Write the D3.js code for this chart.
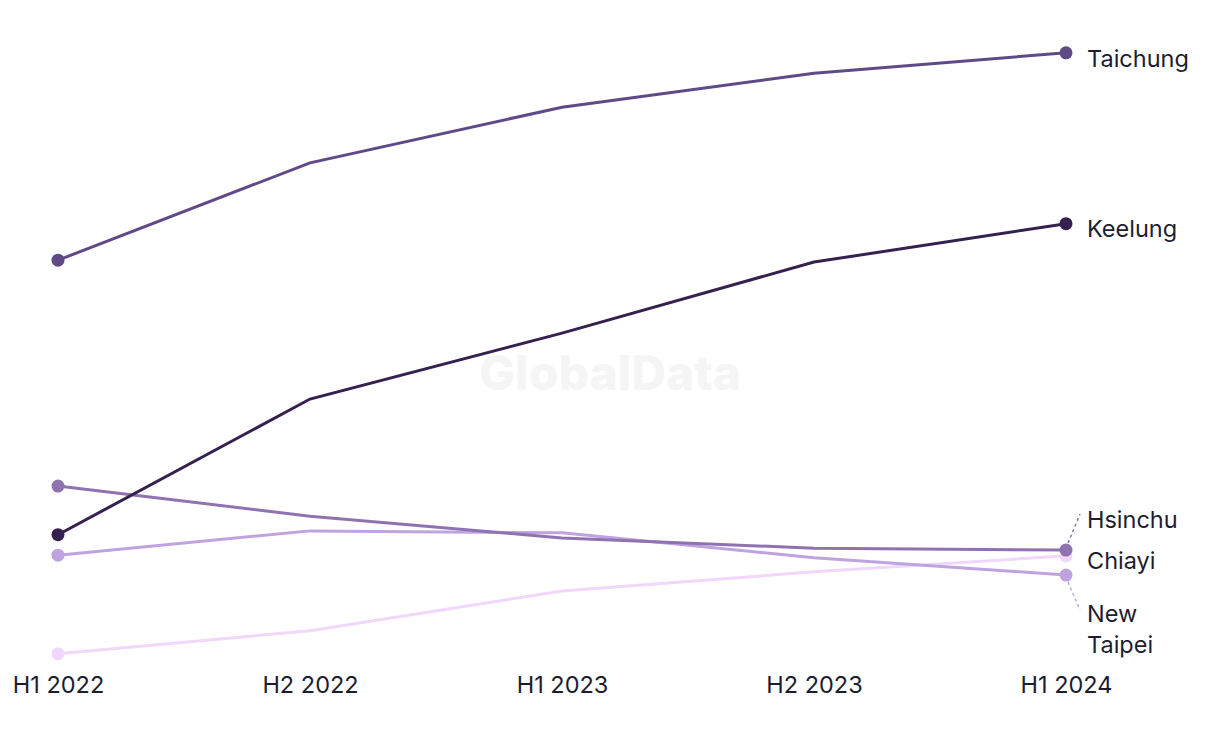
<!DOCTYPE html>
<meta charset="utf-8">
<script src="https://d3js.org/d3.v7.min.js"></script>
<style>
  body { margin: 0; background: #fff; }
  text { font-family: Inter, "Noto Sans", sans-serif; fill: #1d1d30; }
</style>
<div id="my_dataviz"></div>
<script>
// periods on the x axis
var periods = ["H1 2022", "H2 2022", "H1 2023", "H2 2023", "H1 2024"];

// series values (no y axis shown, relative index)
var taichung  = [65.6, 80.8, 89.5, 94.8, 98.0];
var keelung   = [22.7, 43.9, 54.2, 65.3, 71.3];
var hsinchu   = [30.3, 25.6, 22.2, 20.6, 20.3];
var newTaipei = [19.5, 23.3, 23.0, 19.1, 16.4];
var chiayi    = [4.1, 7.7, 13.9, 16.9, 19.4];

var names = ["Taichung", "Keelung", "Hsinchu", "New Taipei", "Chiayi"];
var values = [taichung, keelung, hsinchu, newTaipei, chiayi];
var colors = ["#5f4a87", "#34214f", "#8f73b0", "#bfa3e1", "#f1d7fb"];

var width = 1220, height = 744;

var svg = d3.select("#my_dataviz")
    .append("svg")
    .attr("width", width)
    .attr("height", height);

var x = d3.scalePoint()
    .domain(periods)
    .range([58, 1066]);

var y = d3.scaleLinear()
    .domain([0, 100])
    .range([680, 40]);

// watermark
svg.append("text")
    .attr("x", 610)
    .attr("y", 390)
    .attr("text-anchor", "middle")
    .style("font-size", "48px")
    .style("font-weight", "800")
    .style("fill", "#f5f5f5")
    .text("GlobalData");

var series = names.map(function (n, i) {
    return { name: n, color: colors[i], pts: periods.map(function (p, j) { return { p: p, v: values[i][j] }; }) };
});

// draw back to front so dark lines sit on top
var order = [4, 3, 2, 0, 1];
var line = d3.line().x(d => x(d.p)).y(d => y(d.v));

order.forEach(function (i) {
    var s = series[i];
    svg.append("path")
        .datum(s.pts)
        .attr("fill", "none")
        .attr("stroke", s.color)
        .attr("stroke-width", 3)
        .attr("d", line);
    var first = s.pts[0], last = s.pts[s.pts.length - 1];
    svg.selectAll(null)
        .data([first, last])
        .enter()
        .append("circle")
        .attr("cx", d => x(d.p))
        .attr("cy", d => y(d.v))
        .attr("r", 6.5)
        .attr("fill", s.color);
});

// x axis labels
var xAxis = svg.append("g")
    .attr("transform", "translate(0,672)")
    .call(d3.axisBottom(x).tickSize(0).tickPadding(0));
xAxis.select(".domain").remove();
xAxis.selectAll("text")
    .attr("dy", "0.9em")
    .style("font-size", "23.5px")
    .style("fill", "#1d1d30")
    .style("font-family", "Inter, 'Noto Sans', sans-serif");

// end labels, some nudged apart
var labelY = { "Taichung": 59, "Keelung": 229, "Hsinchu": 520, "Chiayi": 561, "New Taipei": 614 };
var lx = 1087;
series.forEach(function (s) {
    var t = svg.append("text")
        .attr("x", lx)
        .attr("y", labelY[s.name])
        .attr("dy", "0.35em")
        .style("font-size", "23.5px");
    if (s.name === "New Taipei") {
        t.append("tspan").attr("x", lx).text("New");
        t.append("tspan").attr("x", lx).attr("dy", "1.3em").text("Taipei");
    } else {
        t.text(s.name);
    }
});

// dashed leaders for nudged labels
function leader(name, y2) {
    var s = series[names.indexOf(name)];
    var last = s.pts[s.pts.length - 1];
    var y1 = y(last.v);
    var dir = y2 < y1 ? -1 : 1;
    svg.append("line")
        .attr("x1", x(last.p) + 2)
        .attr("y1", y1 + dir * 7)
        .attr("x2", 1080)
        .attr("y2", y2)
        .attr("stroke", s.color)
        .attr("stroke-width", 1.5)
        .attr("stroke-dasharray", "3,3");
}
leader("Hsinchu", 514);
leader("New Taipei", 610);
</script>
